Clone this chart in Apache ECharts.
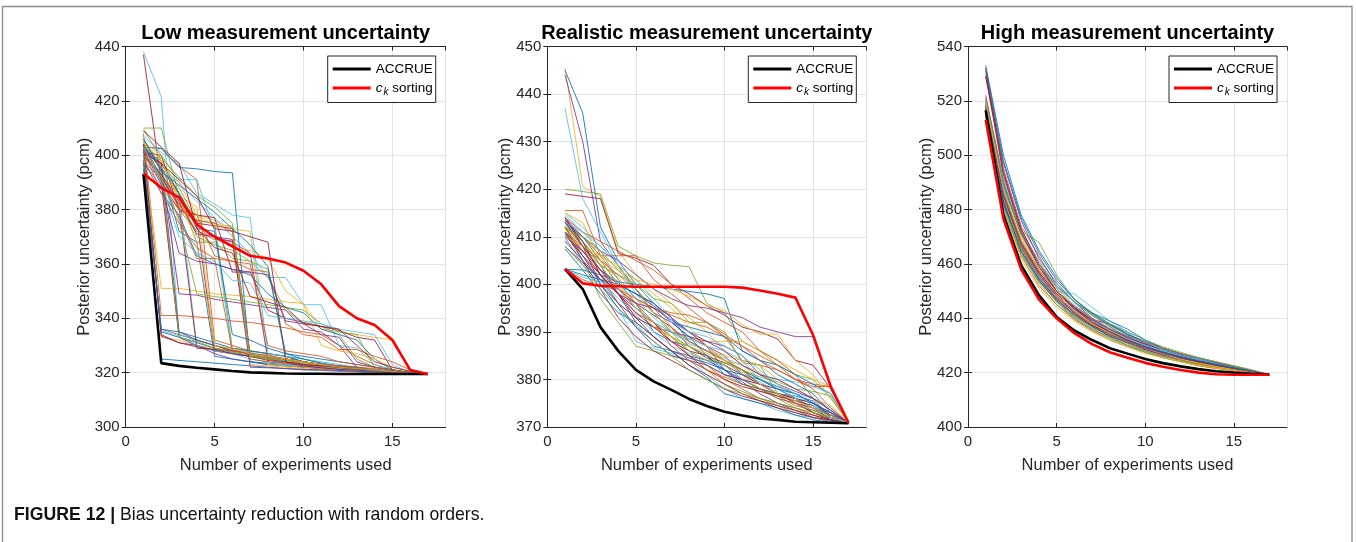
<!DOCTYPE html>
<html><head><meta charset="utf-8">
<script src="https://cdn.jsdelivr.net/npm/echarts@6/dist/echarts.min.js"></script>
<style>html,body{margin:0;padding:0;background:#fff}#c{width:1356px;height:542px}</style>
</head><body><div id="c"></div><script>
// ---------------- data ----------------
const experiments = [1,2,3,4,5,6,7,8,9,10,11,12,13,14,15,16,17];
const panelTitles = ['Low measurement uncertainty','Realistic measurement uncertainty','High measurement uncertainty'];
const xTicks = [0,5,10,15];
const yLow = {min:300, max:440, step:20};
const yReal = {min:370, max:450, step:10};
const yHigh = {min:400, max:540, step:20};

const lowAccrue = [393, 323.5, 322.5, 321.8, 321.2, 320.6, 320.1, 319.9, 319.7, 319.6, 319.6, 319.5, 319.5, 319.5, 319.5, 319.5, 319.5];
const lowCk = [393.3, 388, 384.5, 374.5, 370, 366.5, 363, 362, 360.5, 357.5, 352.5, 344.5, 340, 337.5, 332, 321, 319.5];
const lowRandom = [
  [402, 335, 333, 331, 329, 328, 327, 326, 324, 322, 321.5, 321, 320.5, 320.3, 320, 319.8, 319.5],
  [398, 336, 334, 332, 330, 328.5, 327, 326.5, 325, 323, 322, 321, 320.5, 320.2, 320, 319.7, 319.5],
  [405, 333, 332, 330, 329, 327.5, 326, 325, 323, 322.5, 322, 321.5, 321, 320.5, 320, 319.8, 319.5],
  [400, 334, 331, 330, 327, 325, 324, 323, 322.5, 322, 321.5, 321, 320.5, 320, 319.8, 319.6, 319.5],
  [404, 392, 334, 332, 330, 328, 327, 326, 325, 323, 322, 321, 320.5, 320.2, 320, 319.8, 319.5],
  [438, 421.5, 334, 332, 330, 329, 327.5, 326, 325, 324, 323, 322, 321, 320.5, 320, 319.8, 319.5],
  [437, 390, 333, 330, 328, 327, 326, 325, 324, 323, 322, 321.5, 321, 320.5, 320, 319.8, 319.5],
  [395, 325, 324.5, 324, 323.5, 323, 322.5, 322, 321.5, 321, 320.8, 320.5, 320.3, 320, 319.8, 319.6, 319.5],
  [408, 341, 341, 340.5, 340, 339, 338.5, 337.5, 336.5, 335, 334, 330, 326, 323, 321, 320, 319.5],
  [401, 351, 351, 350, 349, 348.5, 348, 347, 346, 345.5, 336, 335, 334, 333, 332, 320.5, 319.5],
  [403, 396, 349, 348.5, 347, 346, 345, 344, 343, 336, 335, 330, 322, 321, 320.5, 320, 319.5],
  [410, 410, 385, 368, 368, 362, 361, 358, 326, 324, 323, 322, 321, 320.5, 320, 319.8, 319.5],
  [402, 398, 386, 330, 328, 327.5, 326, 325, 324, 323, 322, 321.5, 321, 320.5, 320, 319.7, 319.5],
  [400, 392, 381, 329, 328.5, 328, 327, 326, 325, 324, 323, 322, 321.5, 321, 320.5, 320, 319.5],
  [406, 395, 372, 368, 326, 325, 324, 323.5, 323, 322.5, 322, 321.5, 321, 320.5, 320, 319.8, 319.5],
  [403, 402.5, 396, 391, 332, 330, 328, 327, 326, 324, 323, 322, 321, 320.5, 320, 319.8, 319.5],
  [399, 397, 385, 381, 330, 328, 327, 326, 325, 323, 322, 321.5, 321, 320.5, 320, 319.7, 319.5],
  [404, 390, 380, 376, 328, 327, 326, 325.5, 325, 324, 323, 322, 321.5, 321, 320.5, 320, 319.5],
  [402, 398, 388, 376, 375, 329, 328, 327, 326, 325, 323.5, 322, 321.5, 321, 320.5, 320, 319.5],
  [409, 400, 391, 391, 372, 327, 326.5, 326, 325, 324, 323, 322, 321, 320.5, 320, 319.8, 319.5],
  [401, 397, 386, 375, 374, 373, 327, 326, 325, 324, 323, 322, 321.5, 321, 320.5, 320, 319.5],
  [403, 402.5, 395.5, 395, 394, 393.5, 324, 323, 322.5, 322, 321.5, 321, 320.5, 320.2, 320, 319.8, 319.5],
  [398, 388, 380, 372, 369, 368.5, 326, 325.5, 325, 324, 323, 322.5, 322, 321, 320.5, 320, 319.5],
  [405, 394, 381, 378, 376, 373, 372, 323, 322.5, 322, 321.5, 321, 320.5, 320.2, 320, 319.8, 319.5],
  [400, 392, 382, 372, 370, 368, 364, 325, 324, 323, 322, 321.5, 321, 320.5, 320, 319.8, 319.5],
  [402, 391, 386, 370, 367, 365, 361, 355, 343, 338, 337, 334, 325, 322, 321, 320, 319.5],
  [406, 395, 390, 383, 377, 370, 364, 355, 355, 345, 345, 330, 329, 323, 321, 320, 319.5],
  [401, 400, 380, 378, 377, 357, 357, 343, 340, 338.5, 337, 335.5, 333, 332, 321, 320, 319.5],
  [398, 386, 378, 363, 360, 358, 356, 349, 344, 342, 336, 334, 332, 325, 321, 320, 319.5],
  [404, 392, 382, 378, 363, 361, 358, 357, 338, 334, 333, 328.5, 328.5, 326, 324, 321, 319.5],
  [410, 398, 383, 372, 370, 366, 365, 362, 350, 345, 330, 328, 327, 325, 322, 320.5, 319.5],
  [403, 397, 335, 332, 330, 328, 327, 326, 325, 324, 323, 322, 321.5, 321, 320.5, 320, 319.5],
  [399, 394, 333, 331.5, 329, 327.5, 326.5, 325.5, 324.5, 323.5, 322.5, 321.5, 321, 320.5, 320, 319.8, 319.5],
  [401, 335.5, 333.5, 330, 328, 327, 325, 324, 323, 322.5, 322, 321.5, 321, 320.5, 320.2, 319.8, 319.5],
  [404, 333.5, 331, 329.5, 328.5, 327, 326, 324.5, 323.5, 322.5, 321.8, 321.2, 320.8, 320.4, 320, 319.8, 319.5],
  [397, 336, 335, 333, 331, 329, 328, 327, 326, 324, 323, 322, 321, 320.5, 320.2, 319.8, 319.5],
  [402, 396, 380, 376, 375, 372, 325, 324, 323.5, 323, 322.5, 322, 321.5, 321, 320.5, 320, 319.5],
  [405, 400, 390, 378, 374, 374, 323, 322.5, 322, 321.5, 321, 320.8, 320.5, 320.2, 320, 319.8, 319.5],
  [400, 393, 383, 371, 370, 369, 322, 321.8, 321.5, 321.2, 321, 320.8, 320.5, 320.2, 320, 319.8, 319.5],
  [403, 399, 392, 385, 381, 375, 326, 325, 324.5, 324, 323, 322.5, 322, 321, 320.5, 320, 319.5],
  [407, 401, 397, 386, 382, 378, 377, 327, 326, 325, 324, 323, 322, 321, 320.5, 320, 319.5],
  [401, 397, 391, 385, 373, 372, 370, 368, 324, 323, 322.5, 322, 321.5, 321, 320.5, 320, 319.5],
  [403, 395, 386, 373, 372, 334, 332, 329, 327, 325, 323.5, 322.5, 322, 321, 320.5, 320, 319.5],
  [398, 391, 377, 362, 362, 328, 327, 326, 325, 324, 323, 322.5, 322, 321.5, 320.8, 320, 319.5],
  [405, 398, 384, 368, 330, 329, 327, 326, 325, 324, 323, 322, 321.5, 321, 320.5, 320, 319.5],
  [402, 389, 364, 361, 360, 358, 357, 356, 339, 338, 334, 333, 324, 322, 321, 320, 319.5],
  [400, 392, 376, 349, 348, 347, 346, 345, 344, 343, 338, 335, 334, 322, 321, 320, 319.5],
  [403, 390, 370, 364, 361, 354, 353, 341, 340, 339, 338, 336, 335, 334, 323, 320, 319.5],
  [409, 403, 397, 373, 366, 364, 348, 346, 344, 338, 337, 336, 330, 324, 322, 320.5, 319.5],
  [406, 394, 389, 384, 379, 373, 367, 359, 327, 326, 325, 324, 323, 322, 321, 320, 319.5],
  [402, 386, 375, 366, 362, 361, 360, 330, 328, 327, 326, 324, 323, 322, 321, 320, 319.5]
];

const realAccrue = [403.2, 399, 391, 386, 382, 379.6, 377.8, 375.9, 374.4, 373.2, 372.4, 371.8, 371.5, 371.1, 371.0, 370.9, 370.8];
const realCk = [403.2, 400.2, 399.7, 399.6, 399.5, 399.5, 399.5, 399.5, 399.5, 399.5, 399.3, 398.7, 398, 397.2, 389.3, 378.5, 370.9];
const realRandom = [
  [413, 408, 403, 400.5, 396, 390, 388, 387, 385, 381, 380, 378, 377, 376, 375, 372, 370.9],
  [412, 406, 401, 398, 394, 392, 389, 385, 383, 380, 378, 376, 375, 374, 372.5, 371.5, 370.9],
  [445.5, 420.5, 418.5, 407, 402, 399, 396, 393, 390, 386, 383, 380, 378, 376, 374, 372, 370.9],
  [444, 430, 409, 404, 399, 394, 392, 389, 387, 385, 381, 379, 377, 376, 373, 372, 370.9],
  [420, 419.5, 419, 408, 406, 404.5, 404, 403.7, 396, 394, 388, 386, 383, 381, 380, 376, 370.9],
  [437, 418, 411, 404, 401, 397, 393, 390, 387, 384, 382, 380, 378, 376, 374, 371.5, 370.9],
  [419, 418.5, 418, 406.5, 405.5, 404, 400, 398, 395.5, 393.5, 391, 390, 388.5, 384, 383, 378, 370.9],
  [445, 436, 412, 405, 400, 396, 393, 388, 386, 384, 382, 380, 378.5, 377, 375, 372.5, 370.9],
  [415.5, 415.5, 406, 406, 406, 401, 398, 395, 392, 389, 384, 383, 382, 380, 379, 378.5, 370.9],
  [411.5, 410, 406, 403.5, 400, 396, 392, 390, 387, 384, 381, 378, 377, 375, 373, 371.5, 370.9],
  [414, 409, 404, 398, 392, 389, 386, 385, 384, 382, 379.5, 377, 375, 373.5, 372, 371.2, 370.9],
  [412, 405, 397, 392, 387, 386, 385, 384, 382, 379, 377.5, 376, 374.5, 373, 372, 371, 370.9],
  [410, 404, 400, 395, 388, 386.5, 385.5, 384, 381, 378, 376, 375, 373.5, 372.5, 372, 371.5, 370.9],
  [408, 404.5, 401, 399, 396, 393.5, 391, 387, 384.5, 383, 381, 379, 377, 375, 373, 371.5, 370.9],
  [403.2, 403, 402, 400.5, 400, 399.5, 399, 398.5, 398, 397, 386, 384, 383, 381, 379, 377, 370.9],
  [403.2, 401, 399.5, 399, 397, 395, 393.5, 392, 391, 389, 387, 385, 383, 380, 378.5, 378.5, 370.9],
  [409, 407, 404, 401.5, 397, 394, 390.5, 388.5, 388, 388, 388, 386, 384, 382, 380, 378.5, 370.9],
  [413.5, 410, 407, 405, 402, 399, 397, 395.5, 395, 394, 393, 391, 390, 389, 389, 378, 370.9],
  [412, 408, 404, 402, 400, 397, 396, 392, 392, 390, 383.5, 383, 377, 375.5, 374, 371.5, 370.9],
  [415, 412, 408, 404, 398, 394, 390, 388, 386, 384.5, 383, 381, 380, 379.5, 378.5, 377, 370.9],
  [411, 405, 399, 393, 389, 386, 384, 382, 380, 378, 376.5, 375.5, 374.5, 373.5, 372.5, 371.5, 370.9],
  [407.5, 403, 398, 394, 392, 389, 386, 383, 380.5, 377, 376, 375, 374, 372.5, 371.5, 371, 370.9],
  [414, 411, 409, 407, 405, 403, 400, 397, 394, 392, 390, 386, 384, 381, 376, 372, 370.9],
  [412.5, 408, 405, 403, 401, 400, 399, 397.5, 395.5, 394.5, 391.5, 389.5, 389.5, 384, 381, 376, 370.9],
  [410, 407, 403, 400, 398, 396, 393, 390, 387, 382, 380, 378, 376, 375, 374, 373, 370.9],
  [413, 409, 402, 396, 393, 391, 389, 386, 383, 381, 379, 377.5, 376.5, 375.5, 374, 372.5, 370.9],
  [409.5, 405, 401, 397, 393.5, 390, 387, 385.5, 384, 383, 380, 379, 378, 377, 376, 374, 370.9],
  [411, 407, 402, 398, 395, 392, 388, 386, 385, 383.5, 382, 379, 377, 376, 375, 373, 370.9],
  [403.2, 402, 401, 400, 398, 395.5, 392, 391, 390, 389, 386, 384, 381, 379, 377, 373, 370.9],
  [414, 410, 406, 401, 397, 395, 394, 393.5, 392, 389.5, 387, 384, 382, 380, 378, 374, 370.9],
  [412, 409, 405, 400, 395, 392, 390, 388, 386, 385, 384, 383, 380, 378, 376, 374.5, 370.9],
  [413, 408, 400, 396, 393, 391, 390, 389, 388, 387, 385, 381, 379, 377.5, 376, 373.5, 370.9],
  [412, 409, 404, 399, 395, 392, 389, 387, 385, 383, 380, 378, 376, 374, 373, 372, 370.9],
  [414.5, 411, 407, 401, 397, 393, 390, 387.5, 386, 384, 381, 379.5, 377, 375, 373.5, 372, 370.9],
  [410.5, 406, 402, 398, 393, 389, 386, 383, 381, 379, 377, 375.5, 374, 373, 372, 371.5, 370.9],
  [413, 410, 405, 400, 398, 396, 392, 389, 385, 382, 379, 378, 377, 376.5, 375.5, 372, 370.9],
  [411, 408, 405, 402, 399, 395, 391, 388, 386, 384, 382, 379, 377, 375, 374, 372.5, 370.9],
  [415, 413, 405, 400, 396, 391, 389, 387, 385.5, 384, 383, 381.5, 379, 376, 374, 372, 370.9],
  [409, 405, 401, 396, 391, 388, 385, 384, 383, 381, 380, 379, 378, 376, 374, 371.5, 370.9],
  [412, 410, 407, 403, 399, 394, 390, 386, 384, 383.5, 382, 380.5, 379.5, 378, 377.5, 376.5, 370.9],
  [403.2, 401.5, 400.5, 399, 395, 392, 390, 388.5, 387, 386, 384, 380, 378, 376, 374, 372, 370.9],
  [413.5, 409, 402, 398, 394, 391, 388, 385, 382, 380, 378.5, 377.5, 376.5, 375.5, 374.5, 372, 370.9],
  [411, 406, 400, 395, 391, 387, 386, 384.5, 383.5, 382, 381, 380, 378, 377, 375, 373, 370.9],
  [412, 407, 403, 399, 396, 392, 387, 384, 382, 380.5, 379, 378, 376.5, 374.5, 373.5, 372.5, 370.9],
  [410, 408, 406, 404, 401, 398, 395, 391, 387, 384, 381.5, 379, 377, 375.5, 374, 372, 370.9],
  [414, 408, 403, 398, 396, 395, 392.5, 390, 388, 386, 383, 381, 380, 378, 376, 373.5, 370.9],
  [408, 404, 399, 395, 391.5, 388, 385, 382, 380, 378, 377, 376, 375, 374, 373, 372, 370.9],
  [413, 411, 408, 405, 400, 396, 392, 390, 389, 387, 385, 382, 379, 377, 374.5, 372, 370.9]
];

const highAccrue = [516.5, 478, 459.5, 448.5, 440.5, 435.5, 432, 429, 427, 425, 423.5, 422.3, 421.3, 420.5, 420, 419.6, 419.3];
const highCk = [513, 476.5, 458, 447, 440, 434.5, 430.5, 427.5, 425.5, 423.6, 422.2, 421, 420, 419.4, 419.2, 419.2, 419.2];
const highRandom = [
  [533, 500, 478, 465, 455, 447, 442, 438, 434.5, 431, 428.5, 426.5, 425, 423.5, 422, 420.5, 419.3],
  [532, 495, 474, 463, 452, 446, 441, 437, 433, 430, 428, 426, 424.5, 423, 421.5, 420.5, 419.3],
  [530, 492, 472, 461, 451, 444, 440, 436, 432.5, 430, 427.5, 425.5, 424, 422.5, 421.5, 420.3, 419.3],
  [529, 497, 476, 462, 453, 446, 440, 436, 433, 430.5, 428, 426, 424, 423, 421.5, 420.5, 419.3],
  [521, 488, 472, 468, 456, 447, 442, 437, 433, 430, 428, 426, 424, 422.5, 421.5, 420.3, 419.3],
  [520, 486, 468, 458, 450, 449, 444, 439, 435, 432, 429, 426.5, 425, 423.5, 422, 420.5, 419.3],
  [518, 484, 466, 455, 447, 441, 437, 433.5, 431, 428.5, 426.5, 425, 423.5, 422.3, 421.3, 420.3, 419.3],
  [517, 482, 465, 454, 446, 440, 436, 433, 430, 428, 426, 424.5, 423, 422, 421, 420.2, 419.3],
  [515, 480, 463, 452, 445, 439.5, 435.5, 432, 429.5, 427.5, 425.5, 424, 422.5, 421.5, 420.7, 420, 419.3],
  [519, 490, 470, 458, 449, 443, 438.5, 435, 432, 429.5, 427, 425, 423.5, 422.5, 421.2, 420.3, 419.3],
  [516, 485, 467, 456, 448, 442, 437.5, 434, 431, 428.5, 426.5, 424.8, 423.3, 422.2, 421, 420.1, 419.3],
  [514, 481, 464, 453, 445, 440, 436, 432.5, 430, 427.5, 425.5, 424, 422.8, 421.8, 420.8, 420, 419.3],
  [521, 492, 473, 460, 451, 445, 440, 436, 433, 430, 427.5, 425.5, 424, 422.8, 421.5, 420.5, 419.3],
  [518, 487, 468, 457, 449, 443.5, 439.5, 438, 434, 431, 428, 426, 424.5, 423, 421.8, 420.5, 419.3],
  [520, 489, 471, 460, 452, 446, 442, 439, 436, 432, 429, 427, 425, 423.5, 422, 420.7, 419.3],
  [516, 483, 466, 455.5, 447.5, 442, 438, 434.5, 431.5, 429, 427, 425.5, 424, 422.5, 421.3, 420.3, 419.3],
  [517, 484, 465.5, 454, 446.5, 441, 437, 434, 431, 429, 427, 425, 423.5, 422.3, 421.2, 420.2, 419.3],
  [519, 486, 467, 457, 449, 444, 439, 435.5, 432.5, 430.5, 428.5, 426.5, 425, 423.5, 422, 420.8, 419.3],
  [515, 481, 463.5, 453.5, 446, 440.5, 436.5, 433, 430.5, 428, 426, 424.5, 423, 422, 421, 420.1, 419.3],
  [520, 491, 472, 461, 452, 446, 441, 437.5, 434, 431, 428.5, 426.5, 424.8, 423.3, 422, 420.8, 419.3],
  [531, 494, 473, 460, 450, 444, 439, 435, 432, 429.5, 427.5, 425.5, 424, 422.5, 421.3, 420.2, 419.3],
  [517, 483, 465, 455, 448, 443, 439, 436, 433, 430, 427.5, 425.5, 424, 423, 421.5, 420.5, 419.3],
  [518, 485, 466.5, 456, 448.5, 442.5, 438, 435, 432, 429.5, 427.5, 426, 424.5, 423, 421.7, 420.6, 419.3],
  [514, 480, 462, 451, 444, 439, 435, 432, 429.5, 427, 425.5, 424, 422.7, 421.7, 420.8, 420, 419.3],
  [522, 490, 471, 459, 450, 444, 439.5, 436, 433, 430.5, 428.5, 426.5, 425, 423.5, 422, 420.7, 419.3],
  [516, 484, 467, 456, 448, 442.5, 438.5, 435, 432.5, 430, 428, 426, 424.5, 423, 421.8, 420.5, 419.3],
  [519, 488, 469, 458, 450, 444.5, 440, 436.5, 433.5, 431, 428.5, 426.8, 425, 423.7, 422.3, 420.8, 419.3],
  [515, 482, 465, 454.5, 447, 441.5, 437.5, 434.5, 431.5, 429, 427, 425.2, 423.8, 422.6, 421.5, 420.4, 419.3],
  [532, 498, 477, 464, 454, 447, 441.5, 437.5, 434, 431.5, 429, 427, 425.5, 423.8, 422.3, 420.8, 419.3],
  [518, 486, 468, 457.5, 450, 444.5, 440, 436, 433.5, 431, 429, 427, 425.5, 424, 422.5, 421, 419.3],
  [520, 487, 469, 458, 449.5, 443, 438, 434.5, 431.5, 429, 427, 425, 423.5, 422.3, 421.2, 420.2, 419.3],
  [517, 485, 467.5, 456.5, 448, 442, 437, 433.5, 431, 429, 427.2, 425.5, 424.2, 422.8, 421.5, 420.4, 419.3],
  [521, 490, 471, 460, 451.5, 446, 441.5, 438, 435, 432, 429.5, 427.5, 425.5, 424, 422.5, 421, 419.3],
  [514, 481, 465, 455, 448, 443, 439, 435.5, 432.5, 430, 428, 426.2, 424.6, 423.2, 421.8, 420.6, 419.3],
  [529, 493, 472, 459, 450, 443.5, 438.5, 435, 432, 429.5, 427.5, 425.8, 424.3, 423, 421.7, 420.5, 419.3],
  [516, 483, 464.5, 454, 446.5, 441, 437, 434, 431.5, 429.5, 427.5, 425.8, 424.4, 423, 421.8, 420.5, 419.3]
];
const legendNames = ['ACCRUE', 'c_k sorting'];
const caption = ['FIGURE 12 |', ' Bias uncertainty reduction with random orders.'];

// ---------------- styling / layout ----------------
const palette = ['#0072BD','#D95319','#EDB120','#7E2F8E','#77AC30','#4DBEEE','#A2142F'];
const FONT = '"Liberation Sans", Arial, Helvetica, sans-serif';
const grids = [
  {left:125.7, top:46.5, width:320, height:380.5},
  {left:547.3, top:46.5, width:319, height:380.5},
  {left:968,   top:46.5, width:319, height:380.5}
];
const yRanges = [yLow, yReal, yHigh];
const panels = [
  {accrue: lowAccrue, ck: lowCk, rnd: lowRandom},
  {accrue: realAccrue, ck: realCk, rnd: realRandom},
  {accrue: highAccrue, ck: highCk, rnd: highRandom}
];
const pts = arr => arr.map((v, i) => [experiments[i], v]);
const axisCol = '#262626';
const gridCol = '#e3e3e3';

const xAxes = [], yAxes = [], series = [], titles = [], legends = [];
grids.forEach((g, p) => {
  const yr = yRanges[p];
  xAxes.push({
    type:'value', gridIndex:p, min:0, max:18, interval:5, position:'bottom',
    name:'Number of experiments used', nameLocation:'middle', nameGap:30, nameMoveOverlap:false,
    nameTextStyle:{fontFamily:FONT, fontSize:16.5, color:axisCol},
    axisLine:{show:true, lineStyle:{color:axisCol, width:1}},
    axisTick:{show:true, inside:true, length:4, lineStyle:{color:axisCol}},
    axisLabel:{fontFamily:FONT, fontSize:15, color:axisCol, margin:7, showMaxLabel:false},
    splitLine:{show:true, lineStyle:{color:gridCol, width:1}}
  });
  xAxes.push({
    type:'value', gridIndex:p, min:0, max:18, interval:5, position:'top',
    axisLine:{show:true, lineStyle:{color:axisCol, width:1}},
    axisTick:{show:true, inside:true, length:4, lineStyle:{color:axisCol}},
    axisLabel:{show:false}, splitLine:{show:false}
  });
  yAxes.push({
    type:'value', gridIndex:p, min:yr.min, max:yr.max, interval:yr.step, position:'left',
    name:'Posterior uncertainty (pcm)', nameLocation:'middle', nameGap:33, nameMoveOverlap:false,
    nameTextStyle:{fontFamily:FONT, fontSize:16.5, color:axisCol},
    axisLine:{show:true, lineStyle:{color:axisCol, width:1}},
    axisTick:{show:true, inside:true, length:4, lineStyle:{color:axisCol}},
    axisLabel:{fontFamily:FONT, fontSize:15, color:axisCol, margin:6},
    splitLine:{show:true, lineStyle:{color:gridCol, width:1}}
  });
  yAxes.push({
    type:'value', gridIndex:p, min:yr.min, max:yr.max, interval:yr.step, position:'right',
    axisLine:{show:true, lineStyle:{color:axisCol, width:1}},
    axisTick:{show:true, inside:true, length:4, lineStyle:{color:axisCol}},
    axisLabel:{show:false}, splitLine:{show:false}
  });
  const pan = panels[p];
  pan.rnd.forEach((r, i) => {
    series.push({
      type:'line', name:'random ' + p + '-' + i, xAxisIndex:2*p, yAxisIndex:2*p,
      data: pts(r), symbol:'none', silent:true, z:2,
      lineStyle:{color: palette[i % palette.length], width:0.9, opacity:0.95}
    });
  });
  series.push({
    type:'line', name:legendNames[0], xAxisIndex:2*p, yAxisIndex:2*p, data:pts(pan.accrue),
    symbol:'none', z:3, color:'#000', lineStyle:{color:'#000', width:2.6}
  });
  series.push({
    type:'line', name:legendNames[1], xAxisIndex:2*p, yAxisIndex:2*p, data:pts(pan.ck),
    symbol:'none', z:4, color:'#ff0000', lineStyle:{color:'#ff0000', width:2.6}
  });
  titles.push({
    text: panelTitles[p], left: g.left + g.width/2, top: 23, textAlign:'center', padding:0,
    textStyle:{fontFamily:FONT, fontSize:20, fontWeight:'bold', color:'#000'}
  });
  legends.push({
    data: legendNames, orient:'vertical', left: g.left + g.width - 118, top: 56,
    padding:[6,3,5,5], itemGap:5, itemWidth:38, itemHeight:3, icon:'rect',
    backgroundColor:'#fff', borderColor:'#262626', borderWidth:1, borderRadius:0,
    selectedMode:false,
    formatter: n => n === legendNames[1] ? '{i|c}{s|k}{t| sorting}' : '{t|' + n + '}',
    textStyle:{fontFamily:FONT, fontSize:13.5, color:'#000', padding:[0,0,0,0],
      rich:{
        t:{fontFamily:FONT, fontSize:13.5, color:'#000'},
        i:{fontFamily:FONT, fontSize:13.5, fontStyle:'italic', color:'#000'},
        s:{fontFamily:FONT, fontSize:10, fontStyle:'italic', color:'#000', padding:[9,0,0,1]}
      }}
  });
});

const option = {
  animation:false,
  backgroundColor:'#fff',
  title: titles,
  legend: legends,
  grid: grids.map(g => Object.assign({containLabel:false}, g)),
  xAxis: xAxes, yAxis: yAxes, series: series,
  graphic: [
    {type:'rect', shape:{x:2.5, y:6.5, width:1349.5, height:560}, style:{fill:null, stroke:'#8a8a8a', lineWidth:1.3}, silent:true},
    {type:'text', left:14, top:505, scaleX:0.93, style:{
      text:'{b|' + caption[0] + '}{r|' + caption[1] + '}',
      rich:{
        b:{fontFamily:FONT, fontWeight:'bold', fontSize:19, fill:'#111'},
        r:{fontFamily:FONT, fontSize:19, fill:'#111'}
      }}}
  ]
};
const chart = echarts.init(document.getElementById('c'), null, {renderer:'canvas'});
chart.setOption(option);
</script></body></html>
